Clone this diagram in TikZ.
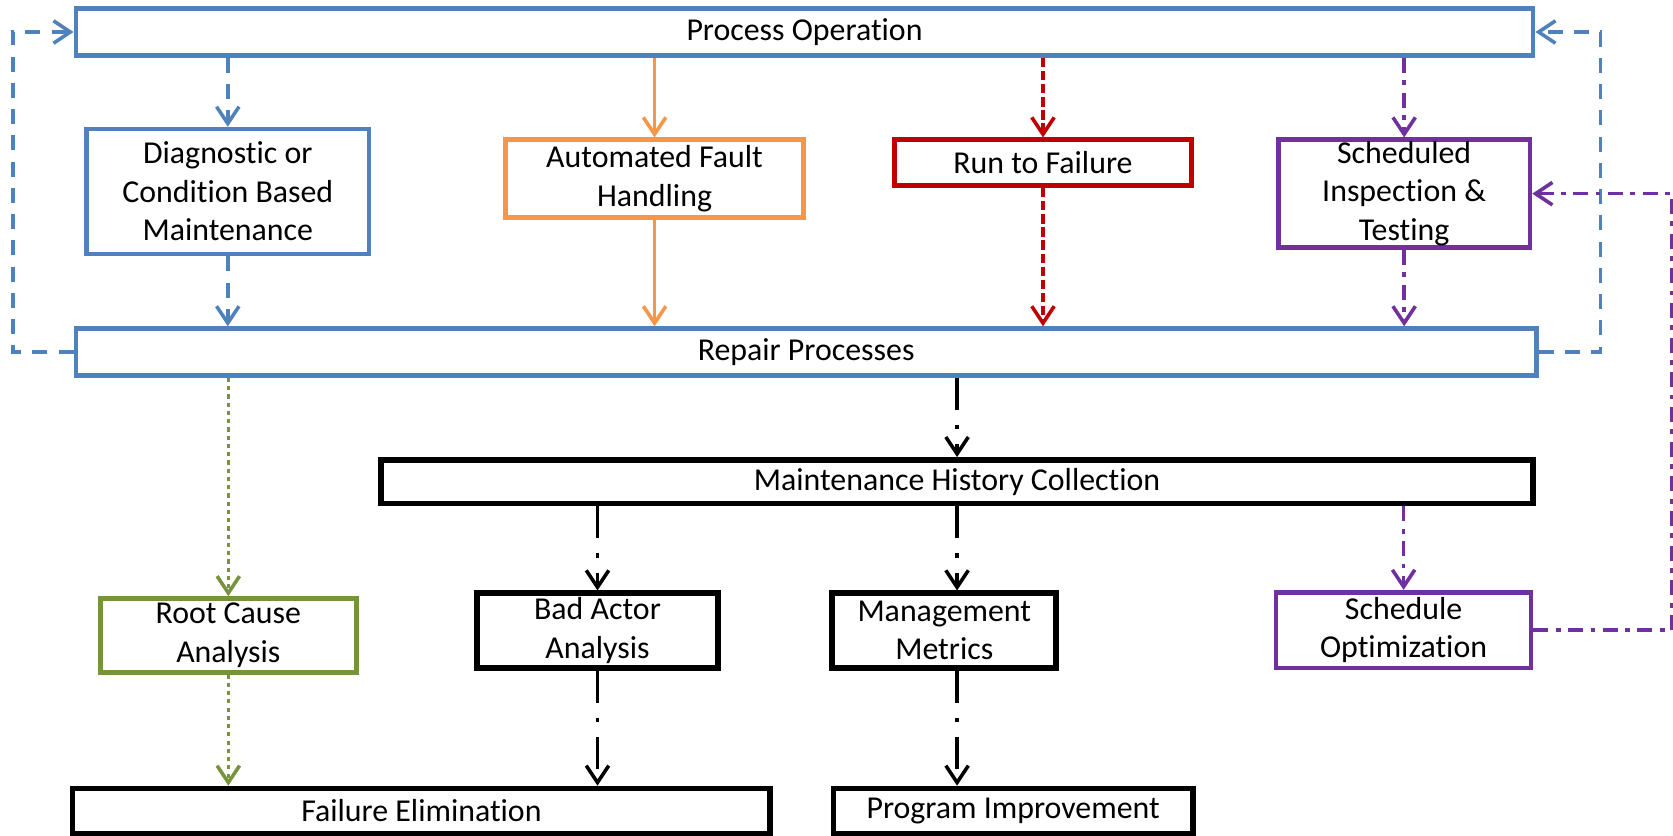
\documentclass[tikz,border=0pt]{standalone}
\usepackage{fontspec}
\setmainfont{Carlito}[RawFeature={-liga;-clig;-calt}]
\usepackage{xcolor}
\usetikzlibrary{arrows.meta}

\definecolor{opblue}{HTML}{4F81BD}
\definecolor{oporange}{HTML}{F79646}
\definecolor{opred}{HTML}{C00000}
\definecolor{oppurple}{HTML}{7030A0}
\definecolor{opgreen}{HTML}{77933C}

\begin{document}
\begin{tikzpicture}[
    x=0.02cm, y=-0.02cm,
    font=\fontsize{17pt}{20.5pt}\selectfont,
    box/.style={draw, rectangle, line width=2.5pt, align=center, inner sep=0pt, fill=white},
    blackbox/.style={box, draw=black, line width=3pt},
    arrow/.style={-{Straight Barb[length=9pt,width=12pt]}, line width=1.9pt},
    bluedash/.style={arrow, opblue, dash pattern=on 8pt off 6pt},
    orangeline/.style={arrow, oporange},
    reddash/.style={arrow, opred, dash pattern=on 5pt off 2pt},
    purpledd/.style={arrow, oppurple, dash pattern=on 8pt off 4pt on 2.5pt off 4pt},
    greendot/.style={arrow, opgreen, dash pattern=on 2.2pt off 2.2pt},
    blackdd/.style={arrow, black, dash pattern=on 17pt off 8pt on 2.5pt off 8pt}
]
    \useasboundingbox (0,0) rectangle (1568,782.6);

    % top row
    \node[box, draw=opblue, minimum width=27.32cm, minimum height=0.88cm] (po) at (754,30) {Process Operation};
    \node[box, draw=opblue, minimum width=5.3cm, minimum height=2.34cm] (diag) at (213.5,179.5) {Diagnostic or\\Condition Based\\Maintenance};
    \node[box, draw=oporange, minimum width=5.58cm, minimum height=1.46cm] (afh) at (613.5,167.5) {Automated Fault\\Handling};
    \node[box, draw=opred, minimum width=5.58cm, minimum height=0.86cm] (rtf) at (977.5,152.5) {Run to Failure};
    \node[box, draw=oppurple, minimum width=4.72cm, minimum height=2.02cm] (sit) at (1316,181.5) {Scheduled\\Inspection \&\\Testing};
    \node[box, draw=opblue, minimum width=27.38cm, minimum height=0.88cm] (rp) at (755.5,330) {Repair Processes};

    % history and analysis
    \node[blackbox, minimum width=21.6cm, minimum height=0.82cm] (mhc) at (897,451.5) {Maintenance History Collection};
    \node[box, draw=opgreen, minimum width=4.8cm, minimum height=1.38cm] (rca) at (214,595.5) {Root Cause\\Analysis};
    \node[blackbox, minimum width=4.52cm, minimum height=1.4cm] (baa) at (560,591) {Bad Actor\\Analysis};
    \node[blackbox, minimum width=4.2cm, minimum height=1.4cm] (mm) at (885,591) {Management\\Metrics};
    \node[box, draw=oppurple, minimum width=4.78cm, minimum height=1.42cm] (so) at (1315.5,590.5) {Schedule\\Optimization};
    \node[blackbox, minimum width=13.08cm, minimum height=0.84cm] (fe) at (395,760) {Failure Elimination};
    \node[blackbox, minimum width=6.74cm, minimum height=0.84cm] (pi) at (949.5,760) {Program Improvement};

    % maintenance strategies
    \draw[bluedash] (po.south -| diag.north) -- (diag.north);
    \draw[bluedash] (diag.south) -- (rp.north -| diag.south);
    \draw[orangeline] (po.south -| afh.north) -- (afh.north);
    \draw[orangeline] (afh.south) -- (rp.north -| afh.south);
    \draw[reddash] (po.south -| rtf.north) -- (rtf.north);
    \draw[reddash] (rtf.south) -- (rp.north -| rtf.south);
    \draw[purpledd] (po.south -| sit.north) -- (sit.north);
    \draw[purpledd] (sit.south) -- (rp.north -| sit.south);
    \draw[bluedash] (rp.west) -- ++(-57,0) |- (po.west);
    \draw[bluedash] (rp.east) -- ++(58,0) |- (po.east);

    % feedback
    \draw[greendot] (rp.south -| rca.north) -- (rca.north);
    \draw[greendot] (rca.south) -- (fe.north -| rca.south);
    \draw[blackdd] (rp.south -| mhc.north) -- (mhc.north);
    \draw[blackdd] (mhc.south -| baa.north) -- (baa.north);
    \draw[blackdd] (mhc.south) -- (mhc.south |- mm.north);
    \draw[purpledd] (mhc.south -| so.north) -- (so.north);
    \draw[blackdd] (baa.south) -- (fe.north -| baa.south);
    \draw[blackdd] (mm.south -| mhc.south) -- (pi.north -| mhc.south);
    \draw[purpledd] (so.east) -- ++(130,0) |- (sit.east);
\end{tikzpicture}
\end{document}
